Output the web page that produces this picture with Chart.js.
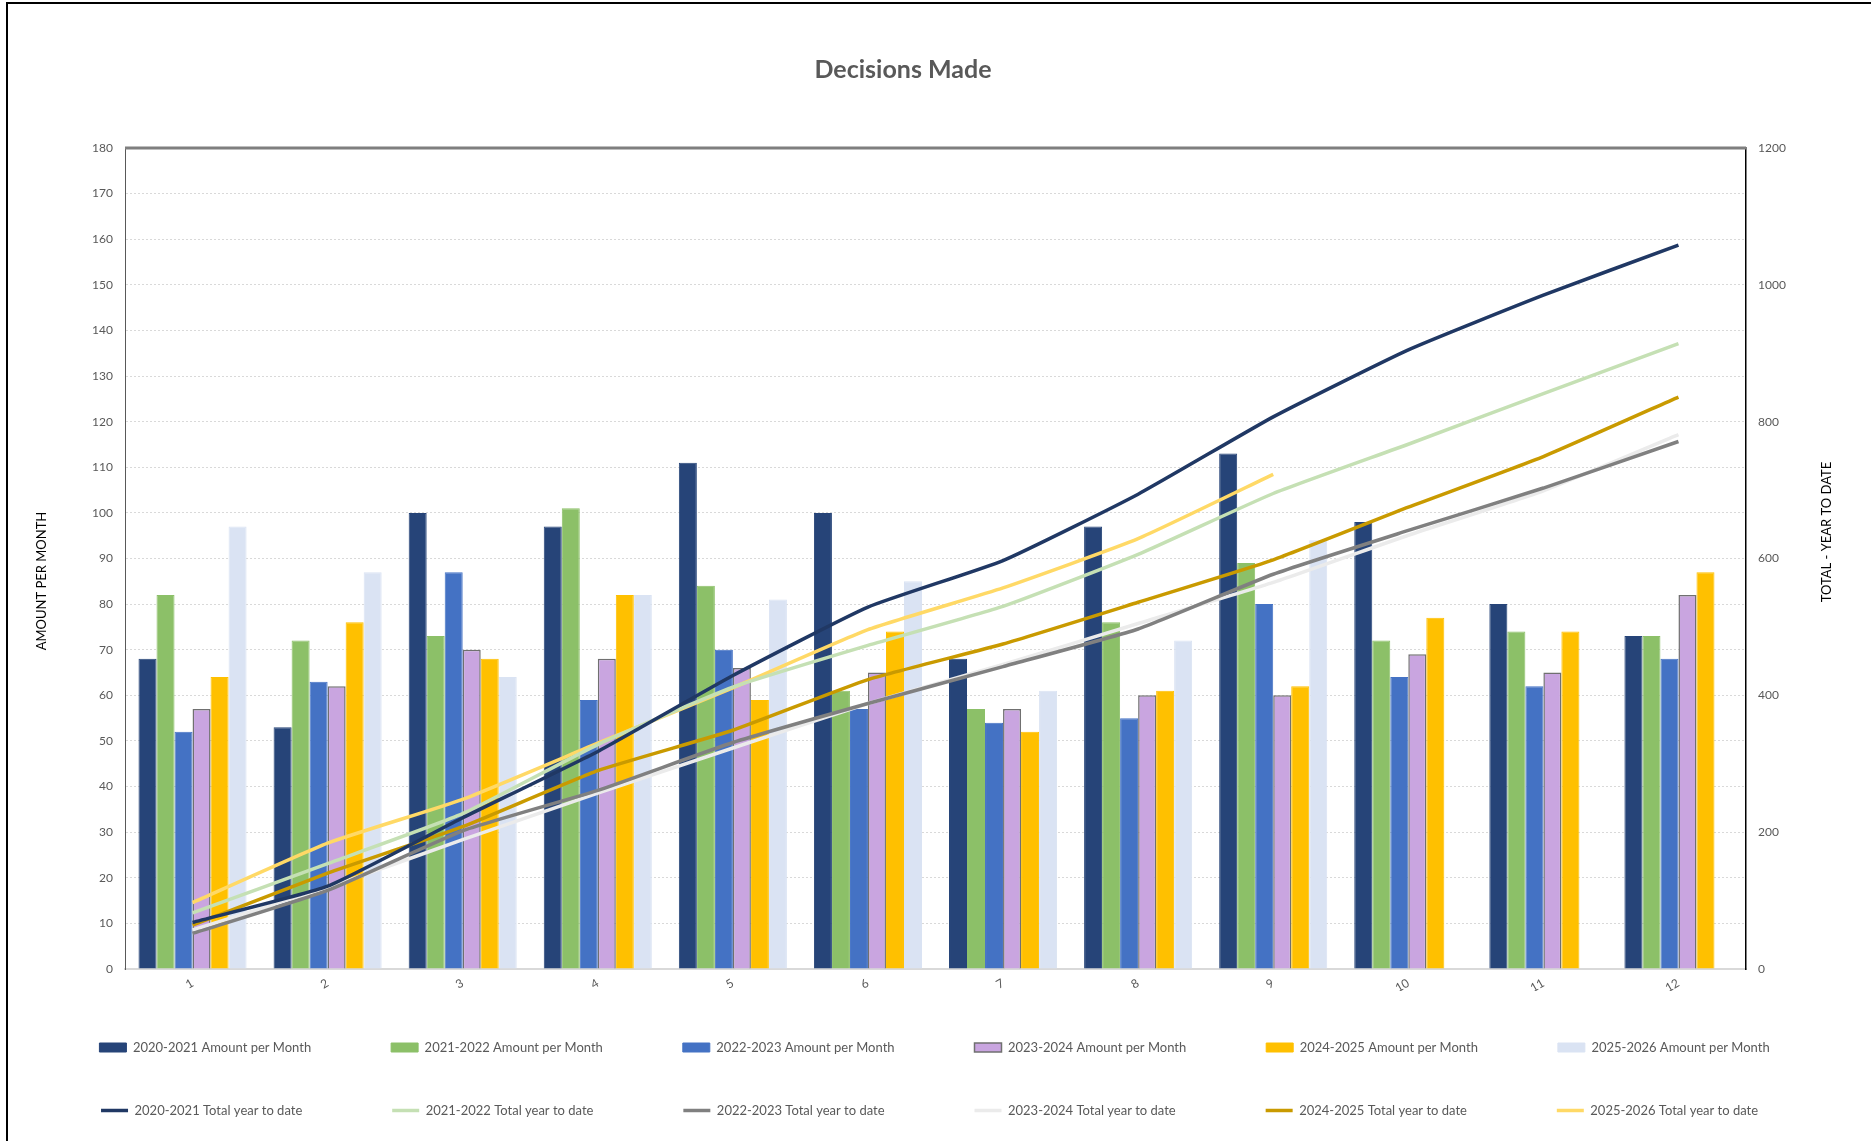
<!DOCTYPE html>
<html>
<head>
<meta charset="utf-8">
<title>Decisions Made</title>
<script src="https://cdn.jsdelivr.net/npm/chart.js@4.4.1/dist/chart.umd.min.js"></script>
<style>
    html, body { margin: 0; padding: 0; background: #fff; }
    #wrap { width: 1871px; height: 1141px; position: relative; }
</style>
</head>
<body>
<div id="wrap"><canvas id="decisionsChart"></canvas></div>
<script>
const months = ['1', '2', '3', '4', '5', '6', '7', '8', '9', '10', '11', '12'];

// amount per month (left axis)
const amount2020 = [68, 53, 100, 97, 111, 100, 68, 97, 113, 98, 80, 73];
const amount2021 = [82, 72, 73, 101, 84, 61, 57, 76, 89, 72, 74, 73];
const amount2022 = [52, 63, 87, 59, 70, 57, 54, 55, 80, 64, 62, 68];
const amount2023 = [57, 62, 70, 68, 66, 65, 57, 60, 60, 69, 65, 82];
const amount2024 = [64, 76, 68, 82, 59, 74, 52, 61, 62, 77, 74, 87];
const amount2025 = [97, 87, 64, 82, 81, 85, 61, 72, 94, null, null, null];

// total year to date (right axis)
const total2020 = [68, 121, 221, 318, 429, 529, 597, 694, 807, 905, 985, 1058];
const total2021 = [82, 154, 227, 328, 412, 473, 530, 606, 695, 767, 841, 914];
const total2022 = [52, 115, 202, 261, 331, 388, 442, 497, 577, 641, 703, 771];
const total2023 = [57, 119, 189, 257, 323, 388, 445, 505, 565, 634, 699, 781];
const total2024 = [64, 140, 208, 290, 349, 423, 475, 536, 598, 675, 749, 836];
const total2025 = [97, 184, 248, 330, 411, 496, 557, 629, 723, null, null, null];

const fontFamily = 'Lato, "Open Sans", sans-serif';
const legendFont = '13px ' + fontFamily;
const legendTextWidth = 210; // pad legend texts so the columns line up

function barSet(label, data, color, border, width) {
    return {
        type: 'bar',
        label: label,
        data: data,
        backgroundColor: color,
        borderColor: border || color,
        borderWidth: width || 1,
        yAxisID: 'y',
        order: 1,
        categoryPercentage: 0.8,
        barPercentage: 1.0
    };
}

function lineSet(label, data, color) {
    return {
        type: 'line',
        label: label,
        data: data,
        borderColor: color,
        backgroundColor: color,
        borderWidth: 3.5,
        pointRadius: 0,
        tension: 0.15,
        fill: false,
        yAxisID: 'y1',
        order: 0
    };
}

function drawText(ctx, text, x, y, font, color, angle) {
    ctx.save();
    ctx.fillStyle = color;
    ctx.font = font;
    ctx.textAlign = 'center';
    ctx.textBaseline = 'middle';
    ctx.translate(x, y);
    ctx.rotate(angle);
    ctx.fillText(text, 0, 0);
    ctx.restore();
}

// white page, outer frame, plot top edge, chart and axis titles
const framePlugin = {
    id: 'frame',
    beforeDraw(chart) {
        const ctx = chart.ctx;
        ctx.save();
        ctx.fillStyle = '#fff';
        ctx.fillRect(0, 0, chart.width, chart.height);
        ctx.strokeStyle = '#000';
        ctx.lineWidth = 2;
        ctx.beginPath();
        ctx.moveTo(7, chart.height);
        ctx.lineTo(7, 3);
        ctx.lineTo(chart.width, 3);
        ctx.stroke();
        ctx.restore();
    },
    afterDraw(chart) {
        const ctx = chart.ctx;
        const area = chart.chartArea;
        ctx.save();
        ctx.strokeStyle = '#7f7f7f';
        ctx.lineWidth = 3;
        ctx.beginPath();
        ctx.moveTo(area.left, area.top);
        ctx.lineTo(area.right, area.top);
        ctx.stroke();
        ctx.restore();

        drawText(ctx, 'Decisions Made', 903, 70, 'bold 25px ' + fontFamily, '#595959', 0);
        drawText(ctx, 'AMOUNT PER MONTH', 42, 581, '13px ' + fontFamily, '#000', -Math.PI / 2);
        drawText(ctx, 'TOTAL - YEAR TO DATE', 1827, 532, '13px ' + fontFamily, '#000', -Math.PI / 2);
    }
};

const ctx = document.getElementById('decisionsChart').getContext('2d');
const decisionsChart = new Chart(ctx, {
    data: {
        labels: months,
        datasets: [
            barSet('2020-2021 Amount per Month', amount2020, '#264478'),
            barSet('2021-2022 Amount per Month', amount2021, '#8CC068'),
            barSet('2022-2023 Amount per Month', amount2022, '#4472C4'),
            barSet('2023-2024 Amount per Month', amount2023, '#C9A5E0', '#707070', 1.5),
            barSet('2024-2025 Amount per Month', amount2024, '#FFC000'),
            barSet('2025-2026 Amount per Month', amount2025, '#DAE3F3'),
            lineSet('2020-2021 Total year to date', total2020, '#203864'),
            lineSet('2021-2022 Total year to date', total2021, '#C5E0B4'),
            lineSet('2022-2023 Total year to date', total2022, '#808080'),
            lineSet('2023-2024 Total year to date', total2023, '#EBEBEB'),
            lineSet('2024-2025 Total year to date', total2024, '#C99A00'),
            lineSet('2025-2026 Total year to date', total2025, '#FFD966')
        ]
    },
    options: {
        responsive: true,
        maintainAspectRatio: false,
        animation: false,
        layout: { padding: { top: 148, left: 40, right: 12, bottom: 14 } },
        scales: {
            x: {
                grid: { display: false, drawTicks: false },
                border: { display: true, color: '#d9d9d9', width: 2 },
                ticks: {
                    color: '#595959',
                    font: { family: fontFamily, size: 12 },
                    minRotation: 30,
                    maxRotation: 30,
                    padding: 7
                },
                afterFit: scale => { scale.height = 22; }
            },
            y: {
                position: 'left',
                min: 0,
                max: 180,
                ticks: {
                    stepSize: 10,
                    color: '#595959',
                    font: { family: fontFamily, size: 12 },
                    padding: 12
                },
                grid: { color: '#d9d9d9', drawTicks: false },
                border: { display: true, color: '#595959', width: 1, dash: [2, 2] },
                afterFit: scale => { scale.width = 85; }
            },
            y1: {
                position: 'right',
                min: 0,
                max: 1200,
                ticks: {
                    stepSize: 200,
                    color: '#595959',
                    font: { family: fontFamily, size: 12 },
                    padding: 12,
                    callback: value => String(value)
                },
                grid: { drawOnChartArea: false, drawTicks: false },
                border: { display: true, color: '#000', width: 1.5 },
                afterFit: scale => { scale.width = 113; }
            }
        },
        plugins: {
            title: { display: false },
            legend: {
                position: 'bottom',
                labels: {
                    usePointStyle: true,
                    pointStyleWidth: 27,
                    boxHeight: 9,
                    padding: 50,
                    color: '#595959',
                    font: { family: fontFamily, size: 13 },
                    sort: (a, b) => a.datasetIndex - b.datasetIndex,
                    generateLabels: chart => {
                        const items = Chart.defaults.plugins.legend.labels.generateLabels(chart);
                        const c = chart.ctx;
                        c.save();
                        c.font = legendFont;
                        const space = c.measureText('\u00A0').width;
                        items.forEach(item => {
                            const ds = chart.data.datasets[item.datasetIndex];
                            item.pointStyle = ds.type === 'line' ? 'line' : 'rect';
                            while (c.measureText(item.text).width + space <= legendTextWidth) {
                                item.text += '\u00A0';
                            }
                        });
                        c.restore();
                        return items;
                    }
                }
            },
            tooltip: { enabled: false }
        }
    },
    plugins: [framePlugin]
});
</script>
</body>
</html>
